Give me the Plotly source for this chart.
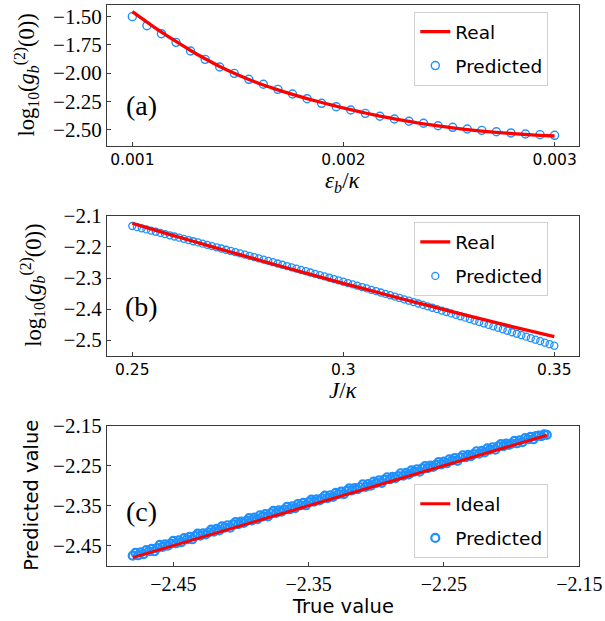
import numpy as np
import plotly.graph_objects as go

# ---------------- data ----------------
# panel (a)
eps_b = np.linspace(0.001, 0.003, 30)
real_a = [-1.456, -1.548, -1.637, -1.720, -1.800, -1.874, -1.942, -2.003, -2.058, -2.107,
          -2.150, -2.190, -2.227, -2.262, -2.295, -2.326, -2.355, -2.382, -2.407, -2.430,
          -2.451, -2.470, -2.487, -2.502, -2.515, -2.527, -2.537, -2.546, -2.553, -2.559]
pred_a = [-1.500, -1.580, -1.651, -1.728, -1.805, -1.879, -1.947, -2.003, -2.056, -2.100,
          -2.145, -2.186, -2.228, -2.269, -2.299, -2.328, -2.358, -2.384, -2.408, -2.428,
          -2.446, -2.468, -2.482, -2.497, -2.509, -2.521, -2.532, -2.541, -2.547, -2.553]

# panel (b)
J_real = np.linspace(0.25, 0.35, 21)
real_b = [-2.1235, -2.1439, -2.1640, -2.1838, -2.2035, -2.2230, -2.2422, -2.2613, -2.2801,
          -2.2987, -2.3171, -2.3353, -2.3533, -2.3710, -2.3885, -2.4059, -2.4230, -2.4399,
          -2.4566, -2.4731, -2.4894]
J_pred = np.linspace(0.25, 0.35, 91)
pred_b = [-2.1323, -2.1360, -2.1397, -2.1434, -2.1472, -2.1509, -2.1547, -2.1585, -2.1623, -2.1661,
          -2.1699, -2.1737, -2.1776, -2.1815, -2.1853, -2.1892, -2.1931, -2.1970, -2.2010, -2.2049,
          -2.2089, -2.2128, -2.2168, -2.2208, -2.2248, -2.2288, -2.2328, -2.2369, -2.2409, -2.2450,
          -2.2491, -2.2532, -2.2573, -2.2614, -2.2656, -2.2697, -2.2739, -2.2781, -2.2823, -2.2865,
          -2.2907, -2.2949, -2.2992, -2.3034, -2.3077, -2.3120, -2.3163, -2.3206, -2.3249, -2.3292,
          -2.3336, -2.3380, -2.3423, -2.3467, -2.3511, -2.3555, -2.3600, -2.3644, -2.3689, -2.3733,
          -2.3778, -2.3823, -2.3868, -2.3913, -2.3959, -2.4004, -2.4050, -2.4096, -2.4141, -2.4187,
          -2.4234, -2.4280, -2.4326, -2.4373, -2.4419, -2.4466, -2.4513, -2.4560, -2.4607, -2.4655,
          -2.4702, -2.4750, -2.4798, -2.4845, -2.4893, -2.4942, -2.4990, -2.5038, -2.5087, -2.5135,
          -2.5184]

# panel (c)
true_c = [-2.480, -2.478, -2.476, -2.474, -2.472, -2.470, -2.468, -2.466, -2.464, -2.462,
          -2.460, -2.458, -2.456, -2.454, -2.452, -2.450, -2.448, -2.446, -2.444, -2.442,
          -2.440, -2.438, -2.436, -2.434, -2.432, -2.430, -2.428, -2.426, -2.424, -2.422,
          -2.420, -2.418, -2.416, -2.414, -2.412, -2.410, -2.408, -2.406, -2.404, -2.402,
          -2.400, -2.398, -2.396, -2.394, -2.392, -2.390, -2.388, -2.386, -2.384, -2.382,
          -2.380, -2.378, -2.376, -2.374, -2.372, -2.370, -2.368, -2.366, -2.364, -2.362,
          -2.360, -2.358, -2.356, -2.354, -2.352, -2.350, -2.348, -2.346, -2.344, -2.342,
          -2.340, -2.338, -2.336, -2.334, -2.332, -2.330, -2.328, -2.326, -2.324, -2.322,
          -2.320, -2.318, -2.316, -2.314, -2.312, -2.310, -2.308, -2.306, -2.304, -2.302,
          -2.300, -2.298, -2.296, -2.294, -2.292, -2.290, -2.288, -2.286, -2.284, -2.282,
          -2.280, -2.278, -2.276, -2.274, -2.272, -2.270, -2.268, -2.266, -2.264, -2.262,
          -2.260, -2.258, -2.256, -2.254, -2.252, -2.250, -2.248, -2.246, -2.244, -2.242,
          -2.240, -2.238, -2.236, -2.234, -2.232, -2.230, -2.228, -2.226, -2.224, -2.222,
          -2.220, -2.218, -2.216, -2.214, -2.212, -2.210, -2.208, -2.206, -2.204, -2.202,
          -2.200, -2.198, -2.196, -2.194, -2.192, -2.190, -2.188, -2.186, -2.184, -2.182,
          -2.180, -2.178, -2.176, -2.174]
pred_c = [-2.475, -2.468, -2.474, -2.467, -2.471, -2.461, -2.464, -2.458, -2.464, -2.456,
          -2.448, -2.453, -2.447, -2.450, -2.445, -2.438, -2.444, -2.437, -2.441, -2.431,
          -2.434, -2.428, -2.434, -2.426, -2.420, -2.425, -2.419, -2.422, -2.417, -2.410,
          -2.415, -2.408, -2.412, -2.402, -2.405, -2.399, -2.405, -2.397, -2.391, -2.396,
          -2.390, -2.393, -2.388, -2.381, -2.387, -2.380, -2.384, -2.374, -2.377, -2.371,
          -2.377, -2.369, -2.363, -2.368, -2.362, -2.365, -2.360, -2.353, -2.359, -2.352,
          -2.356, -2.346, -2.349, -2.343, -2.349, -2.341, -2.335, -2.340, -2.334, -2.337,
          -2.332, -2.325, -2.331, -2.324, -2.328, -2.318, -2.321, -2.315, -2.321, -2.313,
          -2.307, -2.312, -2.306, -2.309, -2.304, -2.297, -2.303, -2.296, -2.300, -2.290,
          -2.293, -2.287, -2.293, -2.285, -2.279, -2.284, -2.278, -2.281, -2.276, -2.269,
          -2.275, -2.268, -2.272, -2.262, -2.265, -2.259, -2.265, -2.257, -2.251, -2.256,
          -2.250, -2.253, -2.248, -2.241, -2.247, -2.240, -2.244, -2.234, -2.237, -2.231,
          -2.238, -2.230, -2.224, -2.229, -2.223, -2.226, -2.221, -2.214, -2.220, -2.213,
          -2.217, -2.207, -2.210, -2.204, -2.210, -2.202, -2.196, -2.201, -2.195, -2.198,
          -2.195, -2.188, -2.194, -2.187, -2.191, -2.181, -2.184, -2.178, -2.184, -2.176,
          -2.175, -2.176, -2.172, -2.173]
ideal_c = [-2.480, -2.174]

# ticks
xticks_a = [0.001, 0.002, 0.003]
xticklabels_a = ["0.001", "0.002", "0.003"]
yticks_a = [-1.50, -1.75, -2.00, -2.25, -2.50]
yticklabels_a = ["\u22121.50", "\u22121.75", "\u22122.00", "\u22122.25", "\u22122.50"]
xticks_b = [0.25, 0.30, 0.35]
xticklabels_b = ["0.25", "0.3", "0.35"]
yticks_b = [-2.1, -2.2, -2.3, -2.4, -2.5]
yticklabels_b = ["\u22122.1", "\u22122.2", "\u22122.3", "\u22122.4", "\u22122.5"]
ticks_c = [-2.45, -2.35, -2.25, -2.15]
ticklabels_c = ["\u22122.45", "\u22122.35", "\u22122.25", "\u22122.15"]

# ---------------- styling ----------------
RED = "#ff0000"
BLUE = "#1e90ff"
SANS = "DejaVu Sans"
SERIF = "Liberation Serif"
W, H = 605, 621

def px_x(p):
    return p / W

def px_y(p):
    return 1 - p / H

fig = go.Figure()

# (a)
fig.add_trace(go.Scatter(x=eps_b, y=pred_a, mode="markers", name="Predicted",
                         marker=dict(symbol="circle-open", size=8, color=BLUE, line=dict(width=1.4)),
                         xaxis="x", yaxis="y", legend="legend", legendrank=2, legendgroup="p"))
fig.add_trace(go.Scatter(x=eps_b, y=real_a, mode="lines", name="Real",
                         line=dict(color=RED, width=3.3, shape="spline"),
                         xaxis="x", yaxis="y", legend="legend", legendrank=1, legendgroup="r"))
# (b)
fig.add_trace(go.Scatter(x=J_pred, y=pred_b, mode="markers", name="Predicted",
                         marker=dict(symbol="circle-open", size=7, color=BLUE, line=dict(width=1.3)),
                         xaxis="x2", yaxis="y2", legend="legend2", legendrank=2, legendgroup="p2"))
fig.add_trace(go.Scatter(x=J_real, y=real_b, mode="lines", name="Real",
                         line=dict(color=RED, width=3.3, shape="spline"),
                         xaxis="x2", yaxis="y2", legend="legend2", legendrank=1, legendgroup="r2"))
# (c)
fig.add_trace(go.Scatter(x=true_c, y=pred_c, mode="markers", name="Predicted",
                         marker=dict(symbol="circle-open", size=8, color=BLUE, line=dict(width=2.2)),
                         xaxis="x3", yaxis="y3", legend="legend3", legendrank=2, legendgroup="p3"))
fig.add_trace(go.Scatter(x=ideal_c, y=ideal_c, mode="lines", name="Ideal",
                         line=dict(color=RED, width=3.0),
                         xaxis="x3", yaxis="y3", legend="legend3", legendrank=1, legendgroup="r3"))

axis_common = dict(showline=True, linecolor="#3a3a3a", linewidth=1.2, mirror=True,
                   ticks="inside", ticklen=4, tickwidth=1, tickcolor="#3a3a3a",
                   showgrid=False, zeroline=False, automargin=False)

xdom = [px_x(107), px_x(579.3)]
fig.update_layout(
    width=W, height=H, margin=dict(l=0, r=0, t=0, b=0),
    paper_bgcolor="white", plot_bgcolor="white",
    xaxis=dict(domain=xdom, range=[0.000880, 0.003117], anchor="y",
               tickvals=xticks_a, ticktext=xticklabels_a,
               tickfont=dict(family=SANS, size=15.5, color="black"), **axis_common),
    yaxis=dict(domain=[px_y(145.67), px_y(5)], range=[-2.645, -1.3964], anchor="x",
               tickvals=yticks_a, ticktext=yticklabels_a,
               tickfont=dict(family=SERIF, size=21, color="black"), **axis_common),
    xaxis2=dict(domain=xdom, range=[0.2440, 0.35593], anchor="y2",
                tickvals=xticks_b, ticktext=xticklabels_b,
                tickfont=dict(family=SANS, size=15.5, color="black"), **axis_common),
    yaxis2=dict(domain=[px_y(355.67), px_y(215.67)], range=[-2.5505, -2.099], anchor="x2",
                tickvals=yticks_b, ticktext=yticklabels_b,
                tickfont=dict(family=SERIF, size=21, color="black"), **axis_common),
    xaxis3=dict(domain=xdom, range=[-2.499, -2.15], anchor="y3",
                tickvals=ticks_c, ticktext=ticklabels_c,
                tickfont=dict(family=SERIF, size=20, color="black"), **axis_common),
    yaxis3=dict(domain=[px_y(565.67), px_y(425.67)], range=[-2.50, -2.15], anchor="x3",
                tickvals=ticks_c, ticktext=ticklabels_c,
                tickfont=dict(family=SERIF, size=21, color="black"), **axis_common),
)

leg_common = dict(bgcolor="white", bordercolor="#d0d0d0", borderwidth=1,
                  font=dict(family=SANS, size=18.5, color="black"),
                  xanchor="left", yanchor="top", traceorder="grouped", tracegroupgap=7)
fig.update_layout(
    legend=dict(x=px_x(414.3), y=px_y(12), **leg_common),
    legend2=dict(x=px_x(414.3), y=px_y(222.3), **leg_common),
    legend3=dict(x=px_x(414.3), y=px_y(484.3), **leg_common),
)

ann = []
def add_text(text, x, y, family, size, angle=0):
    ann.append(dict(text=text, x=px_x(x), y=px_y(y), xref="paper", yref="paper",
                    showarrow=False, xanchor="center", yanchor="middle", textangle=angle,
                    font=dict(family=family, size=size, color="black")))

add_text("(a)", 141.7, 106, SERIF, 28)
add_text("(b)", 141.7, 306.7, SERIF, 28)
add_text("(c)", 141.7, 511, SERIF, 28)
add_text("<i>\u03b5</i><sub><i>b</i></sub>/<i>\u03ba</i>", 342.7, 181.7, SERIF, 23)
add_text("<i>J</i>/<i>\u03ba</i>", 343.3, 390, SERIF, 23)
add_text("True value", 343, 606, SANS, 19.5)
ylog = "log<sub>10</sub>(<i>g</i><sub><i>b</i></sub><sup>(2)</sup>(0))"
add_text(ylog, 26, 75.5, SERIF, 22.5, -90)
add_text(ylog, 33, 285.7, SERIF, 22.5, -90)
add_text("Predicted value", 32, 495.7, SANS, 19.5, -90)
fig.update_layout(annotations=ann)

fig.write_html("out.html", config={"displayModeBar": False},
               post_script="document.body.style.margin='0px';")
